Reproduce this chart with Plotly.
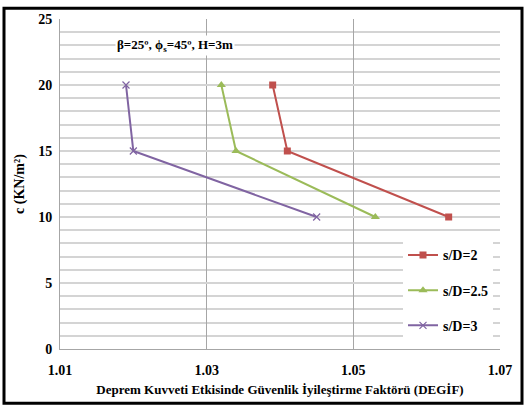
import plotly.graph_objects as go

# DEGİF values for each s/D ratio at cohesion levels
c_vals = [20, 15, 10]
degif_sd2 = [1.039, 1.041, 1.063]
degif_sd25 = [1.032, 1.034, 1.053]
degif_sd3 = [1.019, 1.020, 1.045]
series_names = ["s/D=2", "s/D=2.5", "s/D=3"]

x_ticks = [1.01, 1.03, 1.05, 1.07]
y_ticks = [0, 5, 10, 15, 20, 25]

FONT = "Liberation Serif, Times New Roman, serif"

fig = go.Figure()
styles = [
    (degif_sd2, "#C0504D", dict(symbol="square", size=7)),
    (degif_sd25, "#9BBB59", dict(symbol="triangle-up", size=8)),
    (degif_sd3, "#8064A2", dict(symbol="x-thin-open", size=7, line=dict(width=1.2, color="#8064A2"))),
]
for name, (xs, col, mk) in zip(series_names, styles):
    fig.add_trace(go.Scatter(
        x=xs, y=c_vals, name=f"<b>{name}</b>", mode="lines+markers",
        line=dict(color=col, width=2), marker=dict(color=col, **mk),
        legendgroup=name,
    ))

fig.add_annotation(
    x=1.0257, y=23, xref="x", yref="y",
    text="<b>β=25º, ϕ<sub>s</sub>=45º, H=3m</b>",
    showarrow=False, bgcolor="white",
    font=dict(family=FONT, size=13, color="black"),
)

# outer frame around the chart
W, H = 527, 410
L, R, T, B = 60, 27, 15, 61
pw, ph = W - L - R, H - T - B
fig.add_shape(
    type="rect", xref="paper", yref="paper",
    x0=(4 - L) / pw, x1=(522 - L) / pw,
    y0=(H - B - 404) / ph, y1=(H - B - 4) / ph,
    line=dict(color="black", width=3), fillcolor="rgba(0,0,0,0)",
)

fig.update_layout(
    width=W, height=H,
    margin=dict(l=L, r=R, t=T, b=B),
    paper_bgcolor="white", plot_bgcolor="white",
    font=dict(family=FONT, color="black"),
    showlegend=True,
    legend=dict(
        x=(403 - L) / pw, y=(H - B - 238) / ph, xanchor="left", yanchor="top",
        bgcolor="white", borderwidth=0, tracegroupgap=14,
        font=dict(family=FONT, size=14, color="black"),
        itemwidth=30,
    ),
    xaxis=dict(
        range=[1.01, 1.07], tickvals=x_ticks,
        ticktext=[f"<b>{v:.2f}</b>" for v in x_ticks],
        tickfont=dict(family=FONT, size=14, color="black"),
        showgrid=True, gridcolor="#A6A6A6", gridwidth=1,
        zeroline=False, showline=True, linecolor="#A6A6A6", mirror=False,
        ticks="", ticklen=0, ticklabelstandoff=8,
        title=dict(text="<b>Deprem Kuvveti Etkisinde Güvenlik İyileştirme Faktörü (DEGİF)</b>",
                   font=dict(family=FONT, size=13, color="black"), standoff=8),
    ),
    yaxis=dict(
        range=[0, 25], tickvals=y_ticks,
        ticktext=[f"<b>{v}</b>" for v in y_ticks],
        tickfont=dict(family=FONT, size=14, color="black"),
        showgrid=True, gridcolor="#D4D4D4", gridwidth=1.5,
        minor=dict(dtick=1, showgrid=True, gridcolor="#D4D4D4", gridwidth=1.5),
        zeroline=False, showline=True, linecolor="#A6A6A6",
        ticks="", ticklen=0, ticklabelstandoff=4,
        title=dict(text="<b>c (KN/m²)</b>",
                   font=dict(family=FONT, size=14, color="black"), standoff=10),
    ),
)

fig.write_html("out.html")
